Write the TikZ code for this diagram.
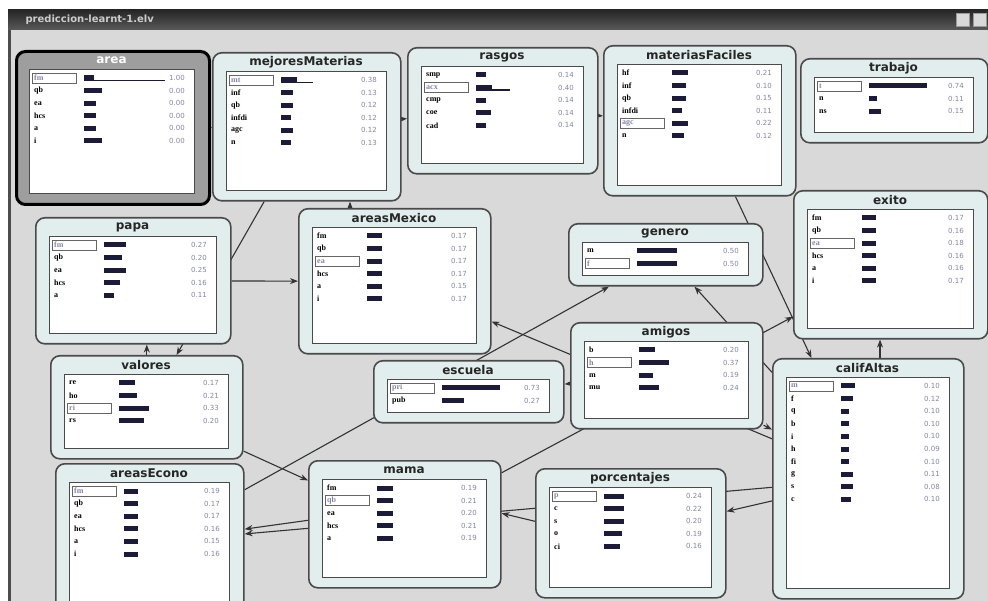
\documentclass[tikz,border=0pt]{standalone}
\usepackage{fontspec}
\setmainfont{Liberation Serif}
\setsansfont{DejaVu Sans}
\usetikzlibrary{arrows.meta}

\definecolor{deskgray}{HTML}{D9D9D9}
\definecolor{boxfill}{HTML}{E2EEEE}
\definecolor{boxline}{HTML}{4A4A4A}
\definecolor{barblue}{HTML}{1C1C38}
\definecolor{valgray}{HTML}{8585A8}

\pgfdeclarelayer{bg}
\pgfdeclarelayer{edges}
\pgfsetlayers{bg,edges,main}

\tikzstyle{netbox} = [rectangle, rounded corners=9pt, draw=boxline, line width=1.6pt, fill=boxfill, inner sep=0pt, anchor=north west]
\tikzstyle{innerbox} = [rectangle, draw=boxline, line width=1.4pt, fill=white, inner sep=0pt, anchor=north west]
\tikzstyle{nettitle} = [font=\sffamily\bfseries\fontsize{12}{12}\selectfont, text=black!85, inner sep=0pt]
\tikzstyle{statelabel} = [font=\fontsize{8}{8}\selectfont\bfseries, anchor=west, inner sep=0pt]
\tikzstyle{stateval} = [font=\sffamily\fontsize{7}{7}\selectfont, text=valgray, anchor=east, inner sep=0pt]
\tikzstyle{bar} = [fill=barblue, draw=none]
\tikzstyle{tail} = [draw=barblue, line width=1.2pt]
\tikzstyle{selbox} = [draw=black!60, fill=white, line width=0.8pt]
\tikzstyle{arrow} = [line width=1.1pt, draw=black!80, -{Stealth[length=8pt,width=6pt]}]
\tikzset{usual/.style={}, usual title/.style={},
  picked/.style={fill=black!38, draw=black, line width=3pt},
  picked title/.style={text=white}}

% #1 look, #2 name, #3 title, #4 left, #5 top, #6 right, #7 bottom, #8 states
\newcommand{\netnode}[8][usual]{%
  \node[netbox, #1, minimum width={(#6-#4)*1pt}, minimum height={(#7-#5)*1pt}] (#2) at (#4,#5) {};
  \node[innerbox, minimum width={(#6-#4-28)*1pt}, minimum height={(#7-#5-29)*1pt}] (#2-in) at (#4+14,#5+19) {};
  \node[nettitle, #1 title] (#2-title) at ({(#4+#6)/2},#5+10) {#3};
  \foreach \lab/\val/\len/\sel [count=\i] in {#8} {
    \pgfmathsetmacro{\ry}{#5+28+(\i-1)*12.6}
    \ifnum\sel=1
      \def\labcol{valgray}
      \draw[selbox] (#4+17,\ry-5) rectangle (#4+61,\ry+5);
    \else
      \def\labcol{black}
    \fi
    \node[statelabel, text=\labcol] (#2-s\i) at (#4+19,\ry) {\lab};
    \fill[bar] (#4+69,\ry-2.5) rectangle (#4+69+\len,\ry+2.5);
    \node[stateval] (#2-v\i) at (#6-23,\ry) {\val};
  }
}

\begin{document}
\begin{tikzpicture}[x=1pt, y=-1pt]
\useasboundingbox (0,0) rectangle (988,601);

% window
\begin{pgfonlayer}{bg}
  \fill[white] (0,0) rectangle (988,601);
  \fill[deskgray] (8,30) rectangle (988,601);
  \shade[top color=black!85, bottom color=black!65] (8,10) rectangle (988,30);
  \draw[black!70, line width=3pt] (9.5,30) -- (9.5,601);
\end{pgfonlayer}
\node[anchor=west, font=\sffamily\bfseries\fontsize{10}{10}\selectfont, text=black!20] (wintitle) at (22,20) {prediccion-learnt-1.elv};
\node[draw=black!40, fill=black!15, minimum width=13pt, minimum height=13pt, inner sep=0pt] (minbtn) at (963,20) {};
\node[draw=black!40, fill=black!15, minimum width=13pt, minimum height=13pt, inner sep=0pt] (maxbtn) at (980,20) {};

% nodes
\netnode[picked]{area}{area}{15}{50}{208}{203}{fm/1.00/10/1, qb/0.00/18/0, ea/0.00/12/0, hcs/0.00/12/0, a/0.00/12/0, i/0.00/18/0}
\netnode{mejoresMaterias}{mejoresMaterias}{212}{52}{400}{200}{mt/0.38/16/1, inf/0.13/12/0, qb/0.12/12/0, infdi/0.12/10/0, agc/0.12/12/0, n/0.13/10/0}
\netnode{rasgos}{rasgos}{407}{47}{597}{173}{smp/0.14/10/0, acx/0.40/16/1, cmp/0.14/10/0, coe/0.14/15/0, cad/0.14/10/0}
\netnode{materiasFaciles}{materiasFaciles}{603}{45}{795}{195}{hf/0.21/16/0, inf/0.10/14/0, qb/0.15/14/0, infdi/0.11/10/0, agc/0.22/16/1, n/0.12/12/0}
\netnode{trabajo}{trabajo}{800}{58}{987}{142}{t/0.74/58/1, n/0.11/8/0, ns/0.15/12/0}
\netnode{exito}{exito}{793}{190}{987}{338}{fm/0.17/14/0, qb/0.16/14/0, ea/0.18/14/1, hcs/0.16/14/0, a/0.16/14/0, i/0.17/14/0}
\netnode{papa}{papa}{35}{217}{230}{343}{fm/0.27/22/1, qb/0.20/18/0, ea/0.25/22/0, hcs/0.16/16/0, a/0.11/10/0}
\netnode{areasMexico}{areasMexico}{298}{208}{490}{353}{fm/0.17/15/0, qb/0.17/15/0, ea/0.17/15/1, hcs/0.17/15/0, a/0.15/15/0, i/0.17/15/0}
\netnode{genero}{genero}{568}{223}{762}{285}{m/0.50/40/0, f/0.50/40/1}
\netnode{amigos}{amigos}{570}{322}{762}{428}{b/0.20/16/0, h/0.37/30/1, m/0.19/14/0, mu/0.24/20/0}
\netnode{escuela}{escuela}{373}{360}{563}{422}{pri/0.73/58/1, pub/0.27/22/0}
\netnode{valores}{valores}{50}{355}{242}{458}{re/0.17/16/0, ho/0.21/18/0, ri/0.33/30/1, rs/0.20/25/0}
\netnode{califAltas}{califAltas}{772}{358}{963}{598}{m/0.10/14/1, f/0.12/12/0, q/0.10/8/0, b/0.10/8/0, i/0.10/8/0, h/0.09/8/0, fi/0.10/8/0, g/0.11/12/0, s/0.08/12/0, c/0.10/10/0}
\netnode{areasEcono}{areasEcono}{55}{463}{243}{620}{fm/0.19/14/1, qb/0.17/14/0, ea/0.17/14/0, hcs/0.16/14/0, a/0.15/14/0, i/0.16/14/0}
\netnode{mama}{mama}{308}{460}{500}{587}{fm/0.19/16/0, qb/0.21/16/1, ea/0.20/16/0, hcs/0.21/16/0, a/0.19/16/0}
\netnode{porcentajes}{porcentajes}{535}{468}{725}{597}{p/0.24/20/1, c/0.22/20/0, s/0.20/20/0, o/0.19/18/0, ci/0.16/16/0}

% thin tails on the long bars
\draw[tail] (84,80.5) -- (165,80.5);
\draw[tail] (281,82.5) -- (313,82.5);
\draw[tail] (476,90) -- (510,90);

% arrows
\coordinate (mx) at (350,0);
\coordinate (ex) at (880,0);
\begin{pgfonlayer}{edges}
  \draw[arrow] (area) -- (mejoresMaterias);
  \draw[arrow] (mejoresMaterias) -- (rasgos);
  \draw[arrow] (rasgos) -- (materiasFaciles);
  \draw[arrow] (areasMexico.north -| mx) -- (mejoresMaterias.south -| mx);
  \draw[arrow] (mejoresMaterias) -- (valores);
  \draw[arrow] (valores.north) -- (valores.north |- papa.south);
  \draw[arrow] (papa) -- (areasMexico);
  \draw[arrow] (valores) -- (mama);
  \draw[arrow] (areasEcono) -- (genero);
  \draw[arrow] (mama) -- (exito);
  \draw[arrow] (califAltas) -- (areasMexico);
  \draw[arrow] (amigos) -- (califAltas);
  \draw[arrow] (califAltas) -- (genero);
  \draw[arrow] (amigos) -- (escuela);
  \draw[arrow] (materiasFaciles) -- (califAltas);
  \draw[arrow] (califAltas.north -| ex) -- (exito.south -| ex);
  \draw[arrow] (califAltas) -- (areasEcono);
  \draw[arrow] (califAltas) -- (porcentajes);
  \draw[arrow] ([yshift=12pt]porcentajes.west) -- ([yshift=11pt]mama.east);
  \draw[arrow] ([yshift=4pt]mama.west) -- (areasEcono);
\end{pgfonlayer}

\end{tikzpicture}
\end{document}
